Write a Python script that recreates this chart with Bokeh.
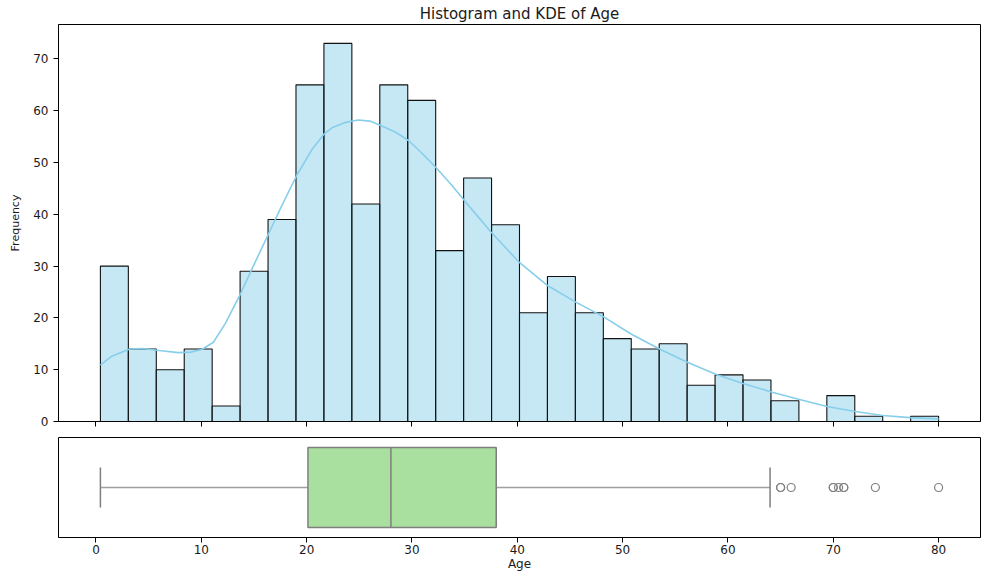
import numpy as np
from bokeh.plotting import figure
from bokeh.layouts import column
from bokeh.models import Range1d, FixedTicker, CustomJSTickFormatter
from bokeh.embed import file_html
from bokeh.resources import INLINE

# ---- data ----
age_min = 0.42
age_max = 80.0
n_bins = 30
counts = [30, 14, 10, 14, 3, 29, 39, 65, 73, 42, 65, 62, 33, 47, 38,
          21, 28, 21, 16, 14, 15, 7, 9, 8, 4, 0, 5, 1, 0, 1]

kde_x = [0.42, 1.5, 3.2, 4.4, 6.0, 7.8, 9.0, 10.05, 11.15, 12.3, 13.8, 14.7, 16.4,
         17.6, 19.05, 20.5, 21.7, 22.4, 23.6, 24.9, 26.0, 27.1, 28.5, 29.7, 31.0,
         32.3, 33.7, 35.0, 37.5, 40.2, 42.9, 45.6, 48.2, 50.8, 53.5, 56.2, 58.9,
         61.5, 64.2, 66.8, 69.4, 72.1, 74.7, 77.3, 80.0]
kde_y = [10.9, 12.6, 14.0, 14.1, 13.7, 13.3, 13.4, 13.9, 15.3, 19.0, 25.0, 29.0, 36.3,
         41.5, 47.5, 52.5, 55.6, 56.7, 57.7, 58.2, 58.0, 57.1, 55.8, 54.2, 51.7,
         49.0, 45.8, 42.6, 36.6, 30.7, 26.2, 23.0, 20.2, 16.9, 14.0, 11.4, 9.06,
         7.3, 5.66, 4.24, 2.9, 1.93, 1.16, 0.75, 0.5]

q1, median, q3 = 20.125, 28.0, 38.0
whisker_lo, whisker_hi = 0.42, 64.0
outliers = [65, 65, 66, 70, 70, 70.5, 71, 71, 74, 80]

x_ticks = [0, 10, 20, 30, 40, 50, 60, 70, 80]
y_ticks = [0, 10, 20, 30, 40, 50, 60, 70]

edges = np.linspace(age_min, age_max, n_bins + 1)
FONT = "DejaVu Sans"
TXT = "#1a1a1a"

span = age_max - age_min
x_range = Range1d(age_min - 0.05 * span, age_max + 0.05 * span)

# ---- top: histogram + KDE ----
p1 = figure(width=981, height=429, x_range=x_range,
            y_range=Range1d(0, max(counts) * 1.05),
            output_backend="svg", toolbar_location=None,
            min_border_left=58, min_border_right=1,
            min_border_top=24, min_border_bottom=8)
p1.title.text = "Histogram and KDE of Age"
p1.title.align = "center"
p1.title.text_font = FONT
p1.title.text_font_size = "15px"
p1.title.text_font_style = "normal"
p1.title.text_color = TXT
p1.title.standoff = 4
p1.title.offset = 0

p1.quad(left=edges[:-1], right=edges[1:], bottom=0, top=counts,
        fill_color="skyblue", fill_alpha=0.48, line_color="#111111", line_width=1.1)
p1.line(kde_x, kde_y, line_color="skyblue", line_width=1.6)

p1.xaxis.ticker = FixedTicker(ticks=x_ticks)
p1.xaxis.formatter = CustomJSTickFormatter(code="return ''")
p1.yaxis.ticker = FixedTicker(ticks=y_ticks)
p1.yaxis.axis_label = "Frequency"

for ax in (p1.xaxis[0], p1.yaxis[0]):
    ax.minor_tick_line_color = None
    ax.major_tick_in = 0
    ax.major_tick_out = 5
    ax.major_tick_line_color = "black"
    ax.axis_line_color = "black"
    ax.major_label_text_font = FONT
    ax.major_label_text_font_size = "12px"
    ax.major_label_text_color = TXT
    ax.axis_label_text_font = FONT
    ax.axis_label_text_font_size = "11px"
    ax.axis_label_text_font_style = "normal"
    ax.axis_label_text_color = TXT
p1.yaxis.major_label_standoff = 5
p1.yaxis.axis_label_standoff = 8
p1.xaxis.major_label_standoff = 0
p1.grid.visible = False
p1.outline_line_color = "black"
p1.outline_line_alpha = 1

# ---- bottom: boxplot ----
p2 = figure(width=981, height=147, x_range=x_range, y_range=Range1d(-0.5, 0.5),
            output_backend="svg", toolbar_location=None,
            y_axis_location=None,
            min_border_left=58, min_border_right=1,
            min_border_top=8, min_border_bottom=39)
gray = "#7f7f7f"
p2.segment(x0=[whisker_lo, q3], y0=[0, 0], x1=[q1, whisker_hi], y1=[0, 0],
           line_color="#a0a0a0", line_width=1.5)
p2.segment(x0=[whisker_lo, whisker_hi], y0=[-0.2, -0.2],
           x1=[whisker_lo, whisker_hi], y1=[0.2, 0.2],
           line_color=gray, line_width=1.5)
p2.quad(left=[q1], right=[q3], bottom=[-0.4], top=[0.4],
        fill_color="#a9df9f", line_color=gray, line_width=1.5)
p2.segment(x0=[median], y0=[-0.4], x1=[median], y1=[0.4],
           line_color=gray, line_width=1.5)
p2.scatter(outliers, [0] * len(outliers), marker="circle", size=8,
           fill_color=None, line_color=gray, line_width=1.2)

p2.xaxis.ticker = FixedTicker(ticks=x_ticks)
p2.xaxis.axis_label = "Age"
ax = p2.xaxis[0]
ax.minor_tick_line_color = None
ax.major_tick_in = 0
ax.major_tick_out = 5
ax.major_tick_line_color = "black"
ax.axis_line_color = "black"
ax.major_label_text_font = FONT
ax.major_label_text_font_size = "12px"
ax.major_label_text_color = TXT
ax.major_label_standoff = 2
ax.axis_label_text_font = FONT
ax.axis_label_text_font_size = "12px"
ax.axis_label_text_font_style = "normal"
ax.axis_label_text_color = TXT
ax.axis_label_standoff = 0
p2.grid.visible = False
p2.outline_line_color = "black"

layout = column(p1, p2, spacing=0)
open("out.html", "w").write(file_html(layout, INLINE))
